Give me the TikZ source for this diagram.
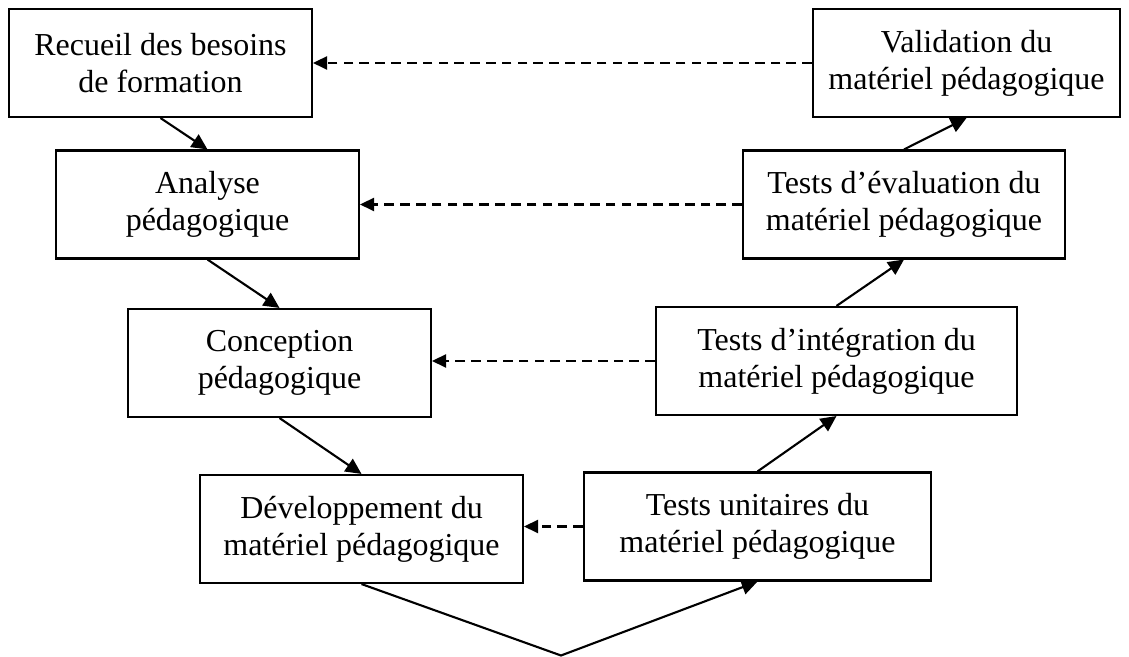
\documentclass[tikz,border=0pt]{standalone}
\usepackage{fontspec}
\setmainfont{Liberation Serif}
\usepackage{tikz}
\usetikzlibrary{calc,positioning,arrows.meta}

\begin{document}
\begin{tikzpicture}
\useasboundingbox (0,0) rectangle (22.58,13.14);
\tikzstyle{box}=[draw, line width=1.2pt, align=center, minimum height=2.16cm, font=\fontsize{18.2pt}{21pt}\selectfont];
\tikzstyle{step arrow}=[line width=1.2pt, -{Triangle[length=9pt,width=8.5pt]}];
\tikzstyle{back arrow}=[line width=1.2pt, dash pattern=on 5.5pt off 3.5pt, -{Triangle[length=8pt,width=7.5pt]}];
\node[box, minimum width=6.06cm] (recueil) at (3.21,11.88) {Recueil des besoins\\de formation};
\node[box, minimum width=6.06cm] (analyse) at (4.15,9.05) {Analyse\\pédagogique};
\node[box, minimum width=6.06cm] (conception) at (5.59,5.88) {Conception\\pédagogique};
\node[box, minimum width=6.46cm] (dev) at (7.23,2.56) {Développement du\\matériel pédagogique};
\node[box, minimum width=6.94cm] (unit) at (15.15,2.61) {Tests unitaires du\\matériel pédagogique};
\node[box, minimum width=7.22cm] (integ) at (16.73,5.92) {Tests d’intégration du\\matériel pédagogique};
\node[box, minimum width=6.44cm] (eval) at (18.08,9.05) {Tests d’évaluation du\\matériel pédagogique};
\node[box, minimum width=6.14cm] (valid) at (19.33,11.88) {Validation du\\matériel pédagogique};
\coordinate (vpt) at (11.22,0.03);
\draw[step arrow] (recueil.south) -- (analyse.north);
\draw[step arrow] (analyse.south) -- (conception.north);
\draw[step arrow] (conception.south) -- (dev.north);
\draw[step arrow] (dev.south) -- (vpt) -- (unit.south);
\draw[step arrow] (unit.north) -- (integ.south);
\draw[step arrow] (integ.north) -- (eval.south);
\draw[step arrow] (eval.north) -- (valid.south);
\draw[back arrow] (valid.west) -- (recueil.east);
\draw[back arrow] (eval.west) -- (analyse.east);
\draw[back arrow] (integ.west) -- (integ.west -| conception.east);
\draw[back arrow] (unit.west) -- (unit.west -| dev.east);
\end{tikzpicture}
\end{document}
